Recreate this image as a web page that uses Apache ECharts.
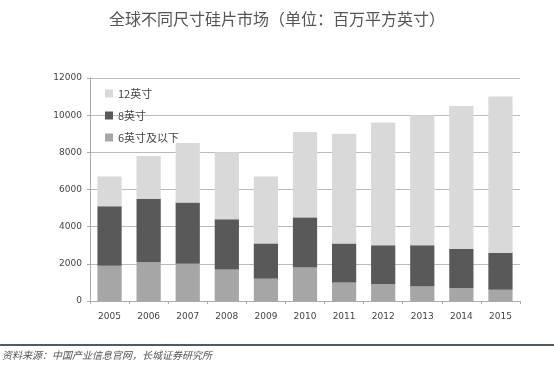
<!DOCTYPE html>
<html>
<head>
<meta charset="utf-8">
<script src="https://cdn.jsdelivr.net/npm/echarts@6/dist/echarts.min.js"></script>
<style>
  html, body { margin: 0; padding: 0; background: #fff; }
  #chart { width: 554px; height: 376px; }
</style>
</head>
<body>
<div id="chart"></div>
<script>
// data (百万平方英寸)
var years = ["2005", "2006", "2007", "2008", "2009", "2010", "2011", "2012", "2013", "2014", "2015"];
var small6 = [1900, 2100, 2000, 1700, 1200, 1800, 1000, 900, 800, 700, 600];
var mid8 = [3200, 3400, 3300, 2700, 1900, 2700, 2100, 2100, 2200, 2100, 2000];
var big12 = [1600, 2300, 3200, 3600, 3600, 4600, 5900, 6600, 7000, 7700, 8400];
var yTicks = [0, 2000, 4000, 6000, 8000, 10000, 12000];

var chart = echarts.init(document.getElementById("chart"));
var fontCn = "'Noto Sans CJK SC', sans-serif";

var option = {
  animation: false,
  title: {
    text: "全球不同尺寸硅片市场（单位：百万平方英寸）",
    left: "center",
    top: 6,
    textStyle: { fontFamily: fontCn, fontSize: 16, fontWeight: "normal", color: "#555" }
  },
  legend: {
    orient: "vertical",
    left: 100,
    top: 83,
    itemGap: 11,
    itemWidth: 8,
    itemHeight: 8,
    icon: "rect",
    textStyle: { fontFamily: fontCn, fontSize: 11, color: "#444" },
    data: ["12英寸", "8英寸", "6英寸及以下"]
  },
  grid: { left: 90, right: 34, top: 78, bottom: 75 },
  xAxis: {
    type: "category",
    data: years,
    axisLine: { lineStyle: { color: "#aaa" } },
    axisTick: { show: true, length: 3, lineStyle: { color: "#aaa" } },
    axisLabel: { color: "#444", fontSize: 9, margin: 11, fontFamily: "DejaVu Sans" }
  },
  yAxis: {
    type: "value",
    min: yTicks[0],
    max: yTicks[yTicks.length - 1],
    interval: 2000,
    axisLine: { show: true, lineStyle: { color: "#aaa" } },
    axisTick: { show: true, length: 3, lineStyle: { color: "#aaa" } },
    splitLine: { lineStyle: { color: "#bbb" } },
    axisLabel: {
      color: "#444",
      fontSize: 9,
      margin: 8,
      fontFamily: "DejaVu Sans",
      formatter: function(v) { return String(v); }
    }
  },
  series: [
    {
      name: "6英寸及以下",
      type: "bar",
      stack: "s",
      barWidth: "62%",
      itemStyle: { color: "#a6a6a6" },
      data: small6
    },
    {
      name: "8英寸",
      type: "bar",
      stack: "s",
      itemStyle: { color: "#595959" },
      data: mid8
    },
    {
      name: "12英寸",
      type: "bar",
      stack: "s",
      itemStyle: { color: "#d9d9d9" },
      data: big12
    }
  ],
  graphic: [
    {
      type: "rect",
      left: 0,
      top: 344,
      shape: { width: 554, height: 2 },
      style: { fill: "#4d5b66" }
    },
    {
      type: "text",
      left: 2,
      top: 350,
      style: {
        text: "资料来源：中国产业信息官网，长城证券研究所",
        fill: "#555",
        font: "italic 10px 'Noto Sans CJK SC', sans-serif"
      }
    }
  ]
};
chart.setOption(option);
</script>
</body>
</html>
